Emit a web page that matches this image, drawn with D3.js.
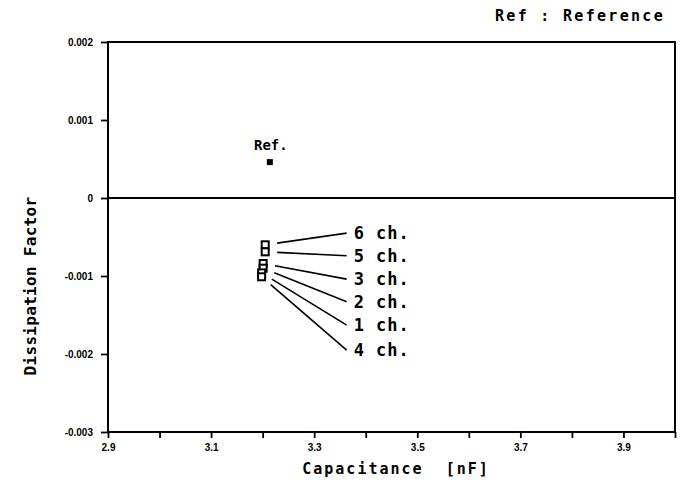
<!DOCTYPE html>
<html lang="en">
<head>
  <meta charset="UTF-8">
  <title>Dissipation Factor vs Capacitance</title>
  <script src="https://d3js.org/d3.v7.min.js"></script>
  <style>
    body, html {
      margin: 0;
      padding: 0;
      background-color: #fff;
      overflow: hidden;
    }
    .tick-label {
      font-family: 'Liberation Sans', Arial, sans-serif;
      font-weight: bold;
      font-size: 10px;
      fill: #000;
    }
    .mono {
      font-family: 'DejaVu Sans Mono', monospace;
      font-weight: bold;
      fill: #000;
    }
  </style>
</head>
<body>
  <svg id="chart"></svg>

  <script>
    // values
    const xTicks = [2.9, 3.0, 3.1, 3.2, 3.3, 3.4, 3.5, 3.6, 3.7, 3.8, 3.9, 4.0];
    const xTickLabels = ["2.9", "3.1", "3.3", "3.5", "3.7", "3.9"];
    const yTicks = [0.002, 0.001, 0, -0.001, -0.002, -0.003];
    const yTickLabels = ["0.002", "0.001", "0", "-0.001", "-0.002", "-0.003"];

    const refPoint = { cap: 3.214, df: 0.00046 };

    const channels = ["6 ch.", "5 ch.", "3 ch.", "2 ch.", "1 ch.", "4 ch."];
    const chCap = [3.205, 3.205, 3.201, 3.201, 3.198, 3.198];
    const chDf = [-0.00060, -0.00069, -0.00084, -0.00090, -0.00096, -0.00101];
    // where each channel label sits (in data units)
    const labelCap = 3.363;
    const labelDf = [-0.00045, -0.00074, -0.00104, -0.00133, -0.00163, -0.00195];

    const width = 684;
    const height = 486;
    const margin = { top: 42, right: 9, bottom: 54, left: 108 };

    const svg = d3.select("#chart")
      .attr("width", width)
      .attr("height", height);

    const x = d3.scaleLinear()
      .domain([2.9, 4.0])
      .range([margin.left, width - margin.right]);

    const y = d3.scaleLinear()
      .domain([-0.003, 0.002])
      .range([height - margin.bottom, margin.top]);

    // frame
    svg.append("rect")
      .attr("x", x(2.9))
      .attr("y", y(0.002))
      .attr("width", x(4.0) - x(2.9))
      .attr("height", y(-0.003) - y(0.002))
      .attr("fill", "none")
      .attr("stroke", "#000")
      .attr("stroke-width", 2);

    // zero line
    svg.append("line")
      .attr("x1", x(2.9)).attr("x2", x(4.0))
      .attr("y1", y(0)).attr("y2", y(0))
      .attr("stroke", "#000")
      .attr("stroke-width", 1.8);

    // y axis
    const yAxis = svg.append("g")
      .attr("transform", `translate(${x(2.9)},0)`)
      .call(d3.axisLeft(y)
        .tickValues(yTicks)
        .tickSize(7)
        .tickPadding(8)
        .tickFormat((d, i) => yTickLabels[i]));
    yAxis.select(".domain").remove();
    yAxis.selectAll("line").attr("stroke-width", 1.8);
    yAxis.selectAll("text").attr("class", "tick-label");

    // x axis
    const xAxis = svg.append("g")
      .attr("transform", `translate(0,${y(-0.003)})`)
      .call(d3.axisBottom(x)
        .tickValues(xTicks)
        .tickSize(6)
        .tickPadding(6)
        .tickFormat(d => {
          const s = d3.format(".1f")(d);
          return xTickLabels.includes(s) ? s : "";
        }));
    xAxis.select(".domain").remove();
    xAxis.selectAll("line").attr("stroke-width", 1.8);
    xAxis.selectAll("text").attr("class", "tick-label");

    // axis titles
    svg.append("text")
      .attr("class", "mono")
      .attr("transform", "translate(36,286) rotate(-90)")
      .attr("text-anchor", "middle")
      .style("font-size", "16px")
      .style("letter-spacing", "0.3px")
      .text("Dissipation Factor");

    svg.append("text")
      .attr("class", "mono")
      .attr("x", 396)
      .attr("y", 474)
      .attr("text-anchor", "middle")
      .style("font-size", "15px")
      .style("letter-spacing", "2px")
      .attr("xml:space", "preserve")
      .text("Capacitance  [nF]");

    svg.append("text")
      .attr("class", "mono")
      .attr("x", 665)
      .attr("y", 21)
      .attr("text-anchor", "end")
      .style("font-size", "15px")
      .style("letter-spacing", "2.3px")
      .attr("xml:space", "preserve")
      .text("Ref : Reference");

    // reference point
    svg.append("rect")
      .attr("x", x(refPoint.cap) - 3)
      .attr("y", y(refPoint.df) - 3)
      .attr("width", 6)
      .attr("height", 6)
      .attr("fill", "#000");

    svg.append("text")
      .attr("class", "mono")
      .attr("x", x(refPoint.cap) + 1)
      .attr("y", y(refPoint.df) - 12)
      .attr("text-anchor", "middle")
      .style("font-size", "14px")
      .text("Ref.");

    // channel markers (open squares)
    svg.selectAll(".ch-mark")
      .data(channels)
      .enter().append("rect")
      .attr("class", "ch-mark")
      .attr("x", (d, i) => x(chCap[i]) - 3.5)
      .attr("y", (d, i) => y(chDf[i]) - 3.5)
      .attr("width", 7)
      .attr("height", 7)
      .attr("fill", "#fff")
      .attr("stroke", "#000")
      .attr("stroke-width", 2);

    // leader lines
    svg.selectAll(".leader")
      .data(channels)
      .enter().append("line")
      .attr("class", "leader")
      .each(function(d, i) {
        const x0 = x(chCap[i]), y0 = y(chDf[i]);
        const x1 = x(labelCap), y1 = y(labelDf[i]);
        const len = Math.hypot(x1 - x0, y1 - y0);
        const off = 12;
        d3.select(this)
          .attr("x1", x0 + (x1 - x0) * off / len)
          .attr("y1", y0 + (y1 - y0) * off / len)
          .attr("x2", x1)
          .attr("y2", y1);
      })
      .attr("stroke", "#000")
      .attr("stroke-width", 1.6);

    // channel labels
    svg.selectAll(".ch-label")
      .data(channels)
      .enter().append("text")
      .attr("class", "mono ch-label")
      .attr("x", x(labelCap) + 7)
      .attr("y", (d, i) => y(labelDf[i]) + 6)
      .style("font-size", "17px")
      .style("letter-spacing", "1px")
      .text(d => d);
  </script>
</body>
</html>
